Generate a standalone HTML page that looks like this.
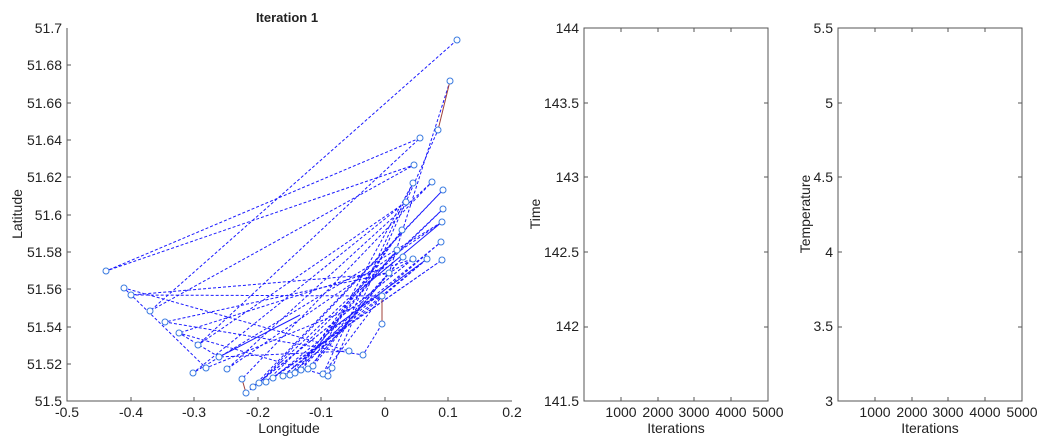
<!DOCTYPE html>
<html><head><meta charset="utf-8"><style>
html,body{margin:0;padding:0;background:#fff;}
svg{display:block;font-family:"Liberation Sans",sans-serif;}
</style></head><body>
<svg width="1047" height="442" viewBox="0 0 1047 442">
<g id="lines" fill="none" stroke="#1a1aff" stroke-width="1" stroke-dasharray="3,2">
<polyline points="457,40 150,311 414,165 106,271 420,138 198,345 406,202 193,373 442,222 227,369 432,182 242,379"/>
<polyline points="246,393 413,259 253,387 443,190 259,383 443,209 266,382 442,260 273,378 441,242 283,376 427,259 290,375 397,250 295,373 402,230 301,370 403,257 308,369 389,273 313,366 413,183 323,374 382,296"/>
<polyline points="382,324 363,355 165,322 389,273 131,295 382,296 206,368 124,288 349,351 219,357 179,333 328,376 332,368 438,130"/>
<polyline points="450,81 389,273 413,259 179,333"/>
</g>
<g fill="none" stroke-width="1">
<line x1="450" y1="81" x2="438" y2="130" stroke="#a0403a"/>
<line x1="382" y1="296" x2="382" y2="324" stroke="#a0403a"/>
<line x1="242" y1="379" x2="246" y2="393" stroke="#a0403a"/>
<line x1="442" y1="222" x2="360" y2="290" stroke="#1a1aff"/>
<line x1="427" y1="259" x2="330" y2="330" stroke="#1a1aff"/>
<line x1="219" y1="357" x2="300" y2="315" stroke="#1a1aff"/>
</g>
<g fill="#fff" stroke="#3a7be0" stroke-width="1">
<circle cx="457" cy="40" r="3"/><circle cx="450" cy="81" r="3"/><circle cx="438" cy="130" r="3"/><circle cx="420" cy="138" r="3"/><circle cx="414" cy="165" r="3"/><circle cx="413" cy="183" r="3"/><circle cx="432" cy="182" r="3"/><circle cx="443" cy="190" r="3"/><circle cx="406" cy="202" r="3"/><circle cx="443" cy="209" r="3"/><circle cx="442" cy="222" r="3"/><circle cx="402" cy="230" r="3"/><circle cx="441" cy="242" r="3"/><circle cx="397" cy="250" r="3"/><circle cx="403" cy="257" r="3"/><circle cx="413" cy="259" r="3"/><circle cx="427" cy="259" r="3"/><circle cx="442" cy="260" r="3"/><circle cx="389" cy="273" r="3"/><circle cx="106" cy="271" r="3"/><circle cx="124" cy="288" r="3"/><circle cx="131" cy="295" r="3"/><circle cx="382" cy="296" r="3"/><circle cx="382" cy="324" r="3"/><circle cx="150" cy="311" r="3"/><circle cx="165" cy="322" r="3"/><circle cx="179" cy="333" r="3"/><circle cx="198" cy="345" r="3"/><circle cx="219" cy="357" r="3"/><circle cx="349" cy="351" r="3"/><circle cx="363" cy="355" r="3"/><circle cx="193" cy="373" r="3"/><circle cx="206" cy="368" r="3"/><circle cx="227" cy="369" r="3"/><circle cx="242" cy="379" r="3"/><circle cx="246" cy="393" r="3"/><circle cx="253" cy="387" r="3"/><circle cx="259" cy="383" r="3"/><circle cx="266" cy="382" r="3"/><circle cx="273" cy="378" r="3"/><circle cx="283" cy="376" r="3"/><circle cx="290" cy="375" r="3"/><circle cx="295" cy="373" r="3"/><circle cx="301" cy="370" r="3"/><circle cx="308" cy="369" r="3"/><circle cx="313" cy="366" r="3"/><circle cx="323" cy="374" r="3"/><circle cx="328" cy="376" r="3"/><circle cx="332" cy="368" r="3"/>
</g>
<!-- Axes 1 -->
<g stroke="#555" stroke-width="1" fill="none">
<polyline points="67,28 67,401 512,401"/>
<path d="M131,401v-4M194,401v-4M258,401v-4M321,401v-4M385,401v-4M448,401v-4"/>
<path d="M67,364h4M67,327h4M67,289h4M67,252h4M67,215h4M67,177h4M67,140h4M67,103h4M67,65h4"/>
</g>
<g font-size="14" fill="#222">
<text x="287" y="22" text-anchor="middle" font-weight="bold" font-size="13">Iteration 1</text>
<g text-anchor="middle">
<text x="67" y="417">-0.5</text><text x="131" y="417">-0.4</text><text x="194" y="417">-0.3</text><text x="258" y="417">-0.2</text><text x="321" y="417">-0.1</text><text x="385" y="417">0</text><text x="448" y="417">0.1</text><text x="512" y="417">0.2</text>
</g>
<text x="289" y="433" text-anchor="middle">Longitude</text>
<g text-anchor="end">
<text x="62" y="406">51.5</text><text x="62" y="369">51.52</text><text x="62" y="332">51.54</text><text x="62" y="294">51.56</text><text x="62" y="257">51.58</text><text x="62" y="220">51.6</text><text x="62" y="182">51.62</text><text x="62" y="145">51.64</text><text x="62" y="108">51.66</text><text x="62" y="70">51.68</text><text x="62" y="33">51.7</text>
</g>
<text transform="translate(22,214) rotate(-90)" text-anchor="middle">Latitude</text>
</g>
<!-- Axes 2 -->
<g stroke="#555" stroke-width="1" fill="none">
<rect x="584" y="28" width="184" height="373"/>
<path d="M621,401v-4M658,401v-4M694,401v-4M731,401v-4M621,28v4M658,28v4M694,28v4M731,28v4"/>
<path d="M584,103h4M584,177h4M584,252h4M584,327h4M768,103h-4M768,177h-4M768,252h-4M768,327h-4"/>
</g>
<g font-size="14" fill="#222">
<g text-anchor="end"><text x="579" y="406">141.5</text><text x="579" y="331">142</text><text x="579" y="257">142.5</text><text x="579" y="182">143</text><text x="579" y="108">143.5</text><text x="579" y="33">144</text></g>
<g text-anchor="middle"><text x="621" y="417">1000</text><text x="658" y="417">2000</text><text x="694" y="417">3000</text><text x="731" y="417">4000</text><text x="768" y="417">5000</text></g>
<text x="676" y="433" text-anchor="middle">Iterations</text>
<text transform="translate(540,214) rotate(-90)" text-anchor="middle">Time</text>
</g>
<!-- Axes 3 -->
<g stroke="#555" stroke-width="1" fill="none">
<rect x="838" y="28" width="184" height="373"/>
<path d="M875,401v-4M912,401v-4M948,401v-4M985,401v-4M875,28v4M912,28v4M948,28v4M985,28v4"/>
<path d="M838,103h4M838,177h4M838,252h4M838,327h4M1022,103h-4M1022,177h-4M1022,252h-4M1022,327h-4"/>
</g>
<g font-size="14" fill="#222">
<g text-anchor="end"><text x="833" y="406">3</text><text x="833" y="331">3.5</text><text x="833" y="257">4</text><text x="833" y="182">4.5</text><text x="833" y="108">5</text><text x="833" y="33">5.5</text></g>
<g text-anchor="middle"><text x="875" y="417">1000</text><text x="912" y="417">2000</text><text x="948" y="417">3000</text><text x="985" y="417">4000</text><text x="1022" y="417">5000</text></g>
<text x="930" y="433" text-anchor="middle">Iterations</text>
<text transform="translate(810,214) rotate(-90)" text-anchor="middle">Temperature</text>
</g>
</svg>
</body></html>
